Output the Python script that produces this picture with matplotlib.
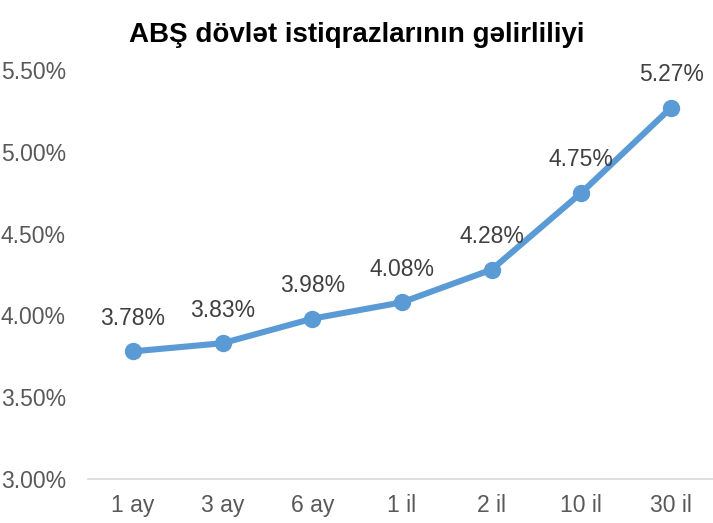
import matplotlib.pyplot as plt
from matplotlib.ticker import FuncFormatter

plt.rcParams['font.family'] = ['Liberation Sans', 'DejaVu Sans']

categories = ["1 ay", "3 ay", "6 ay", "1 il", "2 il", "10 il", "30 il"]
yields = [3.78, 3.83, 3.98, 4.08, 4.28, 4.75, 5.27]
yticks = [3.0, 3.5, 4.0, 4.5, 5.0, 5.5]

fig = plt.figure(figsize=(7.13, 5.23), dpi=100)
ax = fig.add_axes([88/713, 44/523, 628/713, 409/523])

x = range(len(categories))
ax.plot(x, yields, color="#5B9BD5", lw=4.4, marker="o", ms=11.5,
        solid_capstyle="round", zorder=3, clip_on=False)
for i, v in enumerate(yields):
    ax.annotate(f"{v:.2f}%", (i, v), xytext=(0, 19), textcoords="offset points",
                ha="center", va="baseline", fontsize=16.5, color="#404040")

ax.set_xlim(-0.5, len(categories) - 0.5)
ax.set_ylim(3.0, 5.5)
ax.set_xticks(list(x))
ax.set_xticklabels(categories)
ax.set_yticks(yticks)
ax.yaxis.set_major_formatter(FuncFormatter(lambda v, p: f"{v:.2f}%"))
ax.tick_params(axis="both", length=0, labelsize=16.5, labelcolor="#595959")
ax.tick_params(axis="x", pad=11)
ax.tick_params(axis="y", pad=16)
for s in ["top", "right", "left"]:
    ax.spines[s].set_visible(False)
ax.spines["bottom"].set_color("#D9D9D9")
ax.spines["bottom"].set_linewidth(1.2)

fig.text(0.5, 1 - 35/523, "ABŞ dövlət istiqrazlarının gəlirliliyi", ha="center",
         va="center", fontsize=20, fontweight="bold", color="black")

fig.savefig("out.png", dpi=100)
